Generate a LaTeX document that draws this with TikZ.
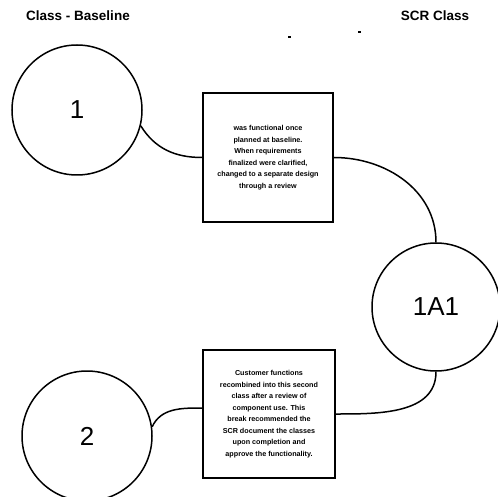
\documentclass[tikz,border=0pt]{standalone}
\usepackage{fontspec}
\setmainfont{Liberation Sans}
\usetikzlibrary{positioning}

\begin{document}
\begin{tikzpicture}[x=1pt, y=-1pt, line width=1.5pt,
  every node/.style={font=\bfseries\fontsize{13.5}{15}\selectfont},
  stage/.style={draw, circle, minimum size=130pt, inner sep=0pt, font=\fontsize{26}{28}\selectfont},
  note/.style={draw, line width=2pt, align=center, inner sep=0pt, font=\bfseries\fontsize{7.2}{11.5}\selectfont}]
\useasboundingbox (0,0) rectangle (498,497);

\node (base) at (78,16) {Class - Baseline};
\node (scr) at (435,16) {SCR Class};

\node[stage] (one) at (77,110) {1};
\node[stage, minimum size=128pt] (oneaone) at (436,307) {1A1};
\node[stage] (two) at (87,436) {2};

\node[note, minimum width=130pt, minimum height=129pt] (first) at (268,157.5)
  {was functional once\\planned at baseline.\\When requirements\\finalized were clarified,\\changed to a separate design\\through a review};
\node[note, minimum width=132pt, minimum height=128pt] (second) at (269,414)
  {Customer functions\\recombined into this second\\class after a review of\\component use. This\\break recommended the\\SCR document the classes\\upon completion and\\approve the functionality.};

% connectors
\draw (one.-14) to[out=-58, in=180] (first.west);
\draw (first.east) to[out=0, in=90] (oneaone.north);
\draw (oneaone.south) to[out=-90, in=0] (second.east);
\draw (two.8) to[out=65, in=180] ([yshift=6pt]second.west);

% stray marks
\fill (288,36) rectangle (291,38);
\fill (358,31) rectangle (361,33);
\end{tikzpicture}
\end{document}
